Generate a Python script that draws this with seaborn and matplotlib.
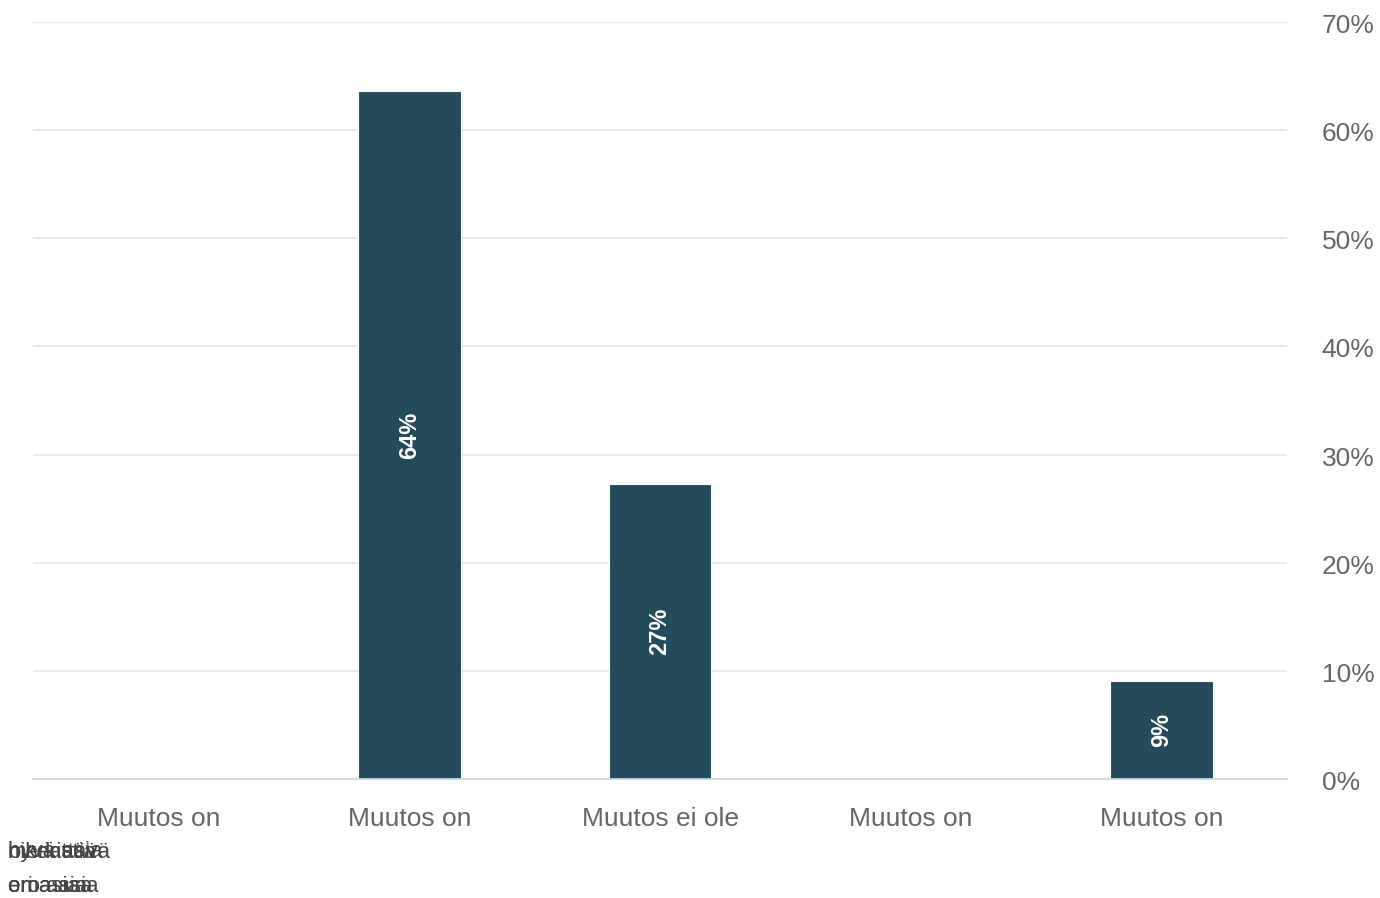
import seaborn as sns
import matplotlib.pyplot as plt
import matplotlib.transforms as mtransforms
import pandas as pd

# data
categories = ["Muutos on", "Muutos on ", "Muutos ei ole", "Muutos on  ", "Muutos on   "]
values = [0, 63.6, 27.3, 0, 9.1]
value_labels = ["", "64%", "27%", "", "9%"]
# second rows of the labels, rendered on top of each other in the original
overlap_row1 = ["oikeastiä", "merkittävä", "hyvä asia"]
overlap_row2 = ["eri asiaa", "oma asia", "ero asia"]
yticks = [0, 10, 20, 30, 40, 50, 60, 70]

df = pd.DataFrame({"kategoria": categories, "osuus": values})

sns.set_style("white")
plt.rcParams['font.family'] = ['Liberation Sans', 'DejaVu Sans']

fig = plt.figure(figsize=(13.8, 8.98), dpi=100)
ax = fig.add_axes([33/1380, 1 - 779/898, (1287-33)/1380, (779-22)/898])

sns.barplot(data=df, x="kategoria", y="osuus", color="#234b59", width=0.41,
            saturation=1, edgecolor="white", linewidth=0.8, ax=ax, zorder=3)

for i, (v, lab) in enumerate(zip(values, value_labels)):
    if lab:
        ax.text(i, v / 2, lab, rotation=90, ha="center", va="center",
                color="white", fontsize=17, fontweight="bold", zorder=4)

ax.set_ylim(0, 70)
ax.set_yticks(yticks)
ax.set_yticklabels([f"{t}%" for t in yticks], va="center")
ax.yaxis.tick_right()
ax.tick_params(axis="y", length=0, pad=25, labelsize=19, labelcolor="#666666")
ax.tick_params(axis="x", length=0, pad=20, labelsize=19, labelcolor="#666666")
# nudge y labels slightly down, as in the original
shift = mtransforms.ScaledTranslation(0, -4/100, fig.dpi_scale_trans)
for t in ax.get_yticklabels():
    t.set_transform(t.get_transform() + shift)
ax.set_xticks(range(len(categories)))
ax.set_xticklabels([c.strip() for c in categories])
ax.grid(axis="y", color="#e6e6e6", linewidth=1.2, zorder=0)
ax.set_axisbelow(True)
ax.set_xlabel("")
ax.set_ylabel("")
for s in ["top", "left", "right"]:
    ax.spines[s].set_visible(False)
ax.spines["bottom"].set_color("#ccd6eb")
ax.spines["bottom"].set_linewidth(1.2)
ax.spines["bottom"].set_zorder(5)

for w in overlap_row1:
    fig.text(8/1380, 1 - 852/898, w, fontsize=16, color="#444444", va="center", ha="left")
for w in overlap_row2:
    fig.text(8/1380, 1 - 887/898, w, fontsize=16, color="#444444", va="center", ha="left")

plt.savefig("out.png", dpi=100)
